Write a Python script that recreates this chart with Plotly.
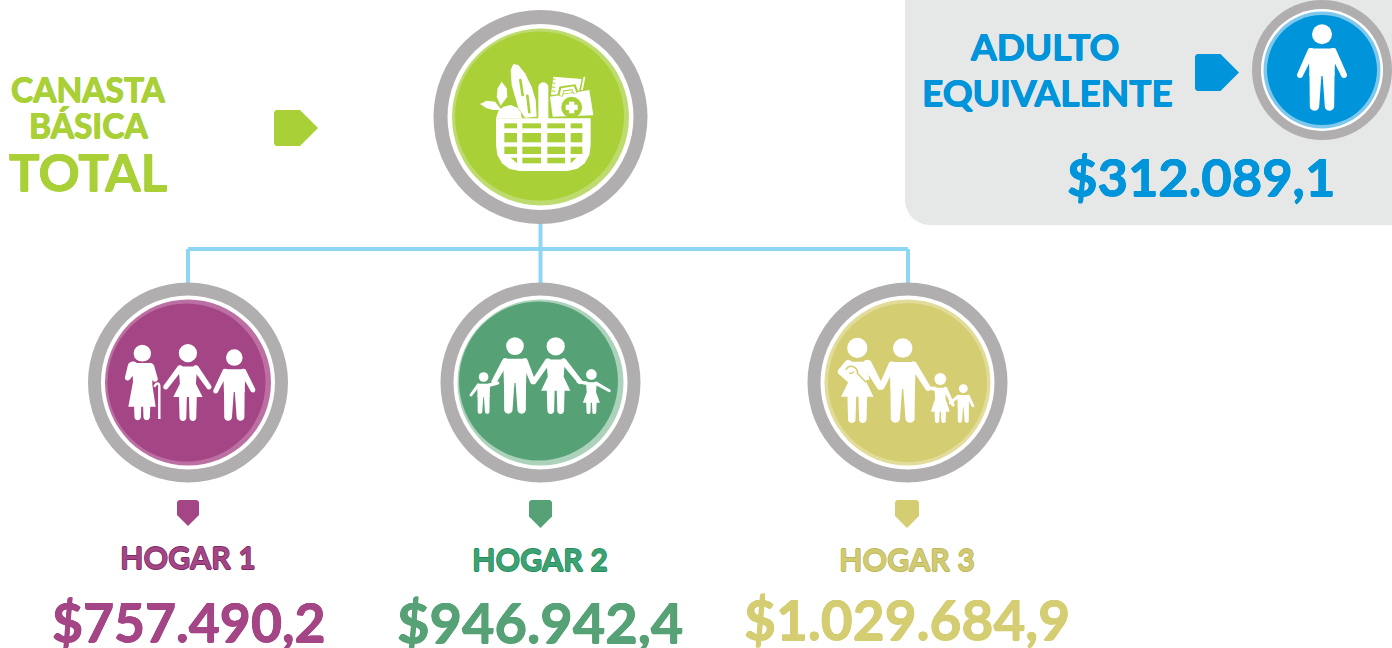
import math
import plotly.graph_objects as go

# ---- data ----
household_labels = ["HOGAR 1", "HOGAR 2", "HOGAR 3"]
household_values = [757490.2, 946942.4, 1029684.9]
adult_label = ["ADULTO", "EQUIVALENTE"]
adult_value = 312089.1
basket_label = ["CANASTA", "BÁSICA", "TOTAL"]

# ---- styles ----
GREY = "#b0aeaf"
LIME, LIME_L = "#a9d037", "#bedb6f"
BLUE, BLUE_L = "#0095da", "#7fc8ec"
PURPLE, PURPLE_L = "#a44585", "#bb6fa2"
GREEN, GREEN_L = "#56a276", "#acd2bb"
YELLOW, YELLOW_L = "#d5cd72", "#e2dc9b"
LINE = "#8fd6f4"
FONT = "Lato"

shapes = []


def poly(pts, color="white", line=None, width=0):
    d = "M" + "L".join(f"{x:.2f},{y:.2f}" for x, y in pts) + "Z"
    shapes.append(dict(type="path", path=d, fillcolor=color, line=dict(width=width, color=line or color),
                       xref="x", yref="y", layer="above"))


def stroke(d, color, width):
    shapes.append(dict(type="path", path=d, fillcolor="rgba(0,0,0,0)", line=dict(color=color, width=width),
                       xref="x", yref="y", layer="above"))


def ell(cx, cy, rx, ry=None, color="white", line=None, width=0):
    ry = rx if ry is None else ry
    shapes.append(dict(type="circle", x0=cx - rx, x1=cx + rx, y0=cy - ry, y1=cy + ry, fillcolor=color,
                       line=dict(width=width, color=line or color), xref="x", yref="y", layer="above"))


def capsule(a, b, r1, r2=None, color="white"):
    r2 = r1 if r2 is None else r2
    ang = math.atan2(b[1] - a[1], b[0] - a[0])
    pts = []
    for i in range(13):
        t = ang + math.pi / 2 + math.pi * i / 12
        pts.append((a[0] + r1 * math.cos(t), a[1] + r1 * math.sin(t)))
    for i in range(13):
        t = ang - math.pi / 2 + math.pi * i / 12
        pts.append((b[0] + r2 * math.cos(t), b[1] + r2 * math.sin(t)))
    poly(pts, color)


def rect(x0, y0, x1, y1, color):
    poly([(x0, y0), (x1, y0), (x1, y1), (x0, y1)], color)


def badge(cx, cy, R, rw, rl, rd, light, dark, ox=0, oy=0):
    ell(cx, cy, R, color=GREY)
    ell(cx, cy, rw, color="white")
    ell(cx, cy, rl, color=light)
    ell(cx + ox, cy + oy, rd, color=dark)


def man(cx, top, bot, hl, hr):
    u = (bot - top) / 87
    ell(cx, top + 10.3 * u, 10 * u)
    sy = top + 24.5 * u
    poly([(cx - 13.5 * u, sy), (cx + 13.5 * u, sy), (cx + 12.5 * u, top + 52 * u),
          (cx - 12.5 * u, top + 52 * u)])
    capsule((cx - 6.5 * u, top + 50 * u), (cx - 7.5 * u, bot - 5 * u), 6 * u, 4.7 * u)
    capsule((cx + 6.5 * u, top + 50 * u), (cx + 7.5 * u, bot - 5 * u), 6 * u, 4.7 * u)
    capsule((cx - 11 * u, sy + 3 * u), hl, 3.6 * u, 3 * u)
    capsule((cx + 11 * u, sy + 3 * u), hr, 3.6 * u, 3 * u)


def woman(cx, top, bot, skirt, hl, hr, rh=None):
    u = (bot - top) / 87
    ell(cx, top + 10.5 * u, rh or 10.3 * u)
    sy = top + 25.5 * u
    poly([(cx - 10.5 * u, sy), (cx + 10.5 * u, sy), (cx + 9 * u, top + 45 * u), (cx + 16.5 * u, skirt),
          (cx - 16.5 * u, skirt), (cx - 9 * u, top + 45 * u)])
    capsule((cx - 5.6 * u, skirt), (cx - 5.6 * u, bot - 3.8 * u), 4.4 * u, 3.8 * u)
    capsule((cx + 5.6 * u, skirt), (cx + 5.6 * u, bot - 3.8 * u), 4.4 * u, 3.8 * u)
    if hl:
        capsule((cx - 9 * u, sy + 2 * u), hl, 3.4 * u, 2.8 * u)
    capsule((cx + 9 * u, sy + 2 * u), hr, 3.4 * u, 2.8 * u)


def tag(x0, y0, x1, y1, color, down=False):
    if down:
        m = (x0 + x1) / 2
        c = y1 - (x1 - x0) / 2
        pts = [(x0 + 2, y0), (x1 - 2, y0), (x1, y0 + 2), (x1, c), (m, y1), (x0, c), (x0, y0 + 2)]
    else:
        m = (y0 + y1) / 2
        c = x1 - (y1 - y0) / 2
        pts = [(x0 + 2, y0), (c, y0), (x1, m), (c, y1), (x0 + 2, y1), (x0, y1 - 2), (x0, y0 + 2)]
    poly(pts, color)


def money(v):
    s = f"{v:,.1f}"
    return "$" + s.replace(",", "#").replace(".", ",").replace("#", ".")


# ---- panel behind the adult badge ----
corner = [(930 - 25 * math.sin(math.pi / 2 * i / 10), 200 + 25 * math.cos(math.pi / 2 * i / 10)) for i in range(11)]
poly([(905, -2), (1394, -2), (1394, 225)] + corner, "#e6e8e8")

# ---- connectors ----
for x0, y0, x1, y1 in [(188, 249, 908, 249), (188, 249, 188, 290), (540.5, 215, 540.5, 290), (908, 249, 908, 290)]:
    shapes.append(dict(type="line", x0=x0, y0=y0, x1=x1, y1=y1, line=dict(color=LINE, width=4),
                       xref="x", yref="y", layer="above"))

# ---- basket badge ----
badge(540.5, 117, 107, 93, 88.5, 84.5, LIME_L, LIME, -1, -1)
bx = lambda x: 470 + x / 3
by = lambda y: 55 + y / 3
P = lambda pts: [(bx(x), by(y)) for x, y in pts]
# leaves, bun, baguette, handle
poly(P([(30, 147), (50, 137), (75, 140), (95, 165), (70, 165), (50, 160)]))
poly(P([(95, 80), (110, 100), (112, 125), (92, 152), (80, 125), (83, 100)]))
poly(P([(78, 190), (85, 168), (100, 155), (122, 150), (142, 158), (152, 172), (156, 190)]))
poly(P([(130, 27), (145, 30), (165, 55), (185, 95), (197, 135), (200, 185), (165, 188), (145, 160),
        (125, 90), (122, 45)]))
capsule((bx(151), by(75)), (bx(158), by(120)), 1.3, 1.3, LIME)
capsule((bx(172), by(122)), (bx(178), by(172)), 1.3, 1.3, LIME)
capsule((bx(220), by(97)), (bx(220), by(190)), 5)
# notebook
poly(P([(250, 65), (335, 72), (326, 112), (243, 120)]))
for y in [72, 84, 96, 108]:
    stroke(f"M{bx(246)},{by(y)} L{bx(256)},{by(y + 1)}", LIME, 1)
capsule((bx(343), by(68)), (bx(336), by(104)), 0.9)
# medical kit
poly(P([(236, 126), (358, 101), (374, 184), (244, 189)]), LIME)
poly(P([(240, 125), (358, 105), (370, 181), (248, 185)]))
stroke(f"M{bx(270)},{by(123)} L{bx(275)},{by(102)} L{bx(311)},{by(97)} L{bx(318)},{by(114)}", LIME, 5.5)
stroke(f"M{bx(272)},{by(122)} L{bx(277)},{by(103)} L{bx(309)},{by(98)} L{bx(316)},{by(114)}", "white", 2.6)
ell(bx(305), by(157), 10.5, color=LIME)
rect(bx(297), by(140), bx(313), by(175), "white")
rect(bx(287), by(149), bx(323), by(165), "white")
# basket body
poly(P([(78, 190), (362, 190), (362, 270), (358, 300), (344, 325), (322, 341), (292, 348), (148, 348),
        (118, 341), (96, 325), (82, 300), (78, 270)]))
cols = [(103, 141), (157, 213), (232, 285), (302, 337)]
rows = [(205, 220), (234, 262), (275, 297), (308, 325)]
for i, (x0, x1) in enumerate(cols):
    for j, (y0, y1) in enumerate(rows):
        if j == 3 and i == 0:
            poly(P([(122, 308), (141, 308), (141, 325)]), LIME)
        elif j == 3 and i == 3:
            poly(P([(302, 308), (320, 308), (302, 325)]), LIME)
        else:
            rect(bx(x0), by(y0), bx(x1), by(y1), LIME)

# ---- adult badge ----
badge(1322, 70, 70, 61, 58.5, 55, BLUE_L, BLUE)
man(1322, 24, 111, (1300, 75), (1344, 75))

# ---- household 1 ----
badge(188, 382.5, 100, 87, 83, 79, PURPLE_L, PURPLE, -1.5, 0)
gx = lambda x: 115 + x / 3
gy = lambda y: 335 + y / 3
G = lambda pts: [(gx(x), gy(y)) for x, y in pts]
ell(gx(82), gy(55), 8.7, 8.7)
stroke(f"M{gx(60)},{gy(74)} Q{gx(82)},{gy(88)} {gx(104)},{gy(74)}", PURPLE, 1)
poly(G([(60, 84), (104, 84), (112, 100), (112, 150), (122, 215), (40, 215), (54, 140), (52, 95)]))
capsule((gx(54), gy(96)), (gx(38), gy(128)), 5.5, 2.8)
capsule((gx(106), gy(96)), (gx(120), gy(132)), 4, 2.8)
capsule((gx(68), gy(212)), (gx(68), gy(246)), 3.6, 3.2)
capsule((gx(95), gy(212)), (gx(95), gy(246)), 3.6, 3.2)
stroke(f"M{gx(118)},{gy(155)} Q{gx(124)},{gy(143)} {gx(130)},{gy(146)} Q{gx(133)},{gy(147)} {gx(133)},{gy(154)} L{gx(133)},{gy(252)}", "white", 2.4)
woman(187.9, 343.8, 421, 397, (165.7, 387), (209, 387))
man(234.3, 349, 421, (215.7, 391), (252.9, 390))

# ---- household 2 ----
badge(540.5, 382.5, 100, 87, 83, 79.5, GREEN_L, GREEN, -2, -1.5)
man(483.6, 372, 414, (471, 395), (497.9, 383))
man(515, 337, 414, (494, 381.7), (532.9, 381.7))
woman(555.7, 337, 414, 390.7, (534, 381.7), (580, 381.7))
woman(591.4, 369, 414, 402.7, (578, 381.7), (609.3, 390.7))

# ---- household 3 ----
badge(907.5, 382.5, 100, 87, 83, 79.5, YELLOW_L, YELLOW, 0, 0)
hx = lambda x: 830 + x / 3
hy = lambda y: 330 + y / 3
woman(857.3, 337.5, 423, 396.7, None, (880, 386.7))
poly([(hx(x), hy(y)) for x, y in [(55, 95), (110, 95), (118, 150), (62, 150), (30, 132)]])
capsule((hx(55), hy(100)), (hx(34), hy(125)), 3.5)
capsule((hx(34), hy(125)), (hx(60), hy(148)), 3.5)
stroke(f"M{hx(47)},{hy(120)} Q{hx(55)},{hy(105)} {hx(70)},{hy(110)} Q{hx(85)},{hy(118)} {hx(82)},{hy(130)} "
       f"L{hx(108)},{hy(157)}", YELLOW, 1.5)
stroke(f"M{hx(58)},{hy(128)} Q{hx(66)},{hy(134)} {hx(72)},{hy(124)}", YELLOW, 1.2)
capsule((hx(112), hy(103)), (hx(150), hy(170)), 4.6, 3.2)
man(902.7, 338, 423, (881.7, 386.7), (928, 388))
woman(940.3, 373, 423, 411.7, (928, 388), (953, 405))
man(963.3, 384, 423, (950, 403), (973, 406))

# ---- tags ----
tag(274, 110, 318, 146, LIME)
tag(1195, 54, 1239, 91, BLUE)
tag(177, 500, 199, 526, PURPLE, down=True)
tag(529, 500, 552, 528, GREEN, down=True)
tag(895, 500, 919, 528, YELLOW, down=True)

# ---- text ----
ann = []


def text(s, x, y, size, color, edge=None, t=0.5):
    c = edge or color
    shadow = f"{t}px 0 0 {c},-{t}px 0 0 {c},0 {t}px 0 {c},0 -{t}px 0 {c}"
    ann.append(dict(text=s, x=x, y=y, xref="x", yref="y", showarrow=False, xanchor="center", yanchor="middle",
                    font=dict(family=FONT, size=size, color=color, weight=700, shadow=shadow)))


text(basket_label[0], 88, 88.5, 33.5, LIME)
text(basket_label[1], 88, 124.5, 33.5, LIME)
text(basket_label[2], 88, 171, 51, LIME)
text(adult_label[0], 1044.5, 45.5, 37, BLUE)
text(adult_label[1], 1047.5, 91, 37, BLUE)
text(money(adult_value), 1200.5, 175, 52.5, BLUE)

centers = [188, 540, 907]
label_fill = [PURPLE, "#3fa172", "#d0ca72"]
label_edge = ["#7a2d63", "#1f8f5f", "#bdb65a"]
value_colors = [PURPLE, GREEN, YELLOW]
label_y = [557, 559, 559]
value_y = [621, 621, 619]
value_size = [53.5, 56, 55]
for i in range(3):
    text(household_labels[i], centers[i], label_y[i], 30.5, label_fill[i], edge=label_edge[i], t=0.6)
    text(money(household_values[i]), centers[i], value_y[i], value_size[i], value_colors[i])

fig = go.Figure()
fig.update_layout(
    width=1392, height=648, autosize=False, margin=dict(l=0, r=0, t=0, b=0),
    paper_bgcolor="white", plot_bgcolor="white", showlegend=False,
    xaxis=dict(range=[0, 1392], visible=False, fixedrange=True),
    yaxis=dict(range=[648, 0], visible=False, fixedrange=True),
    shapes=shapes, annotations=ann,
)
fig.write_html("out.html", config={"displayModeBar": False},
               post_script="document.body.style.margin='0';document.body.style.overflow='hidden';")
